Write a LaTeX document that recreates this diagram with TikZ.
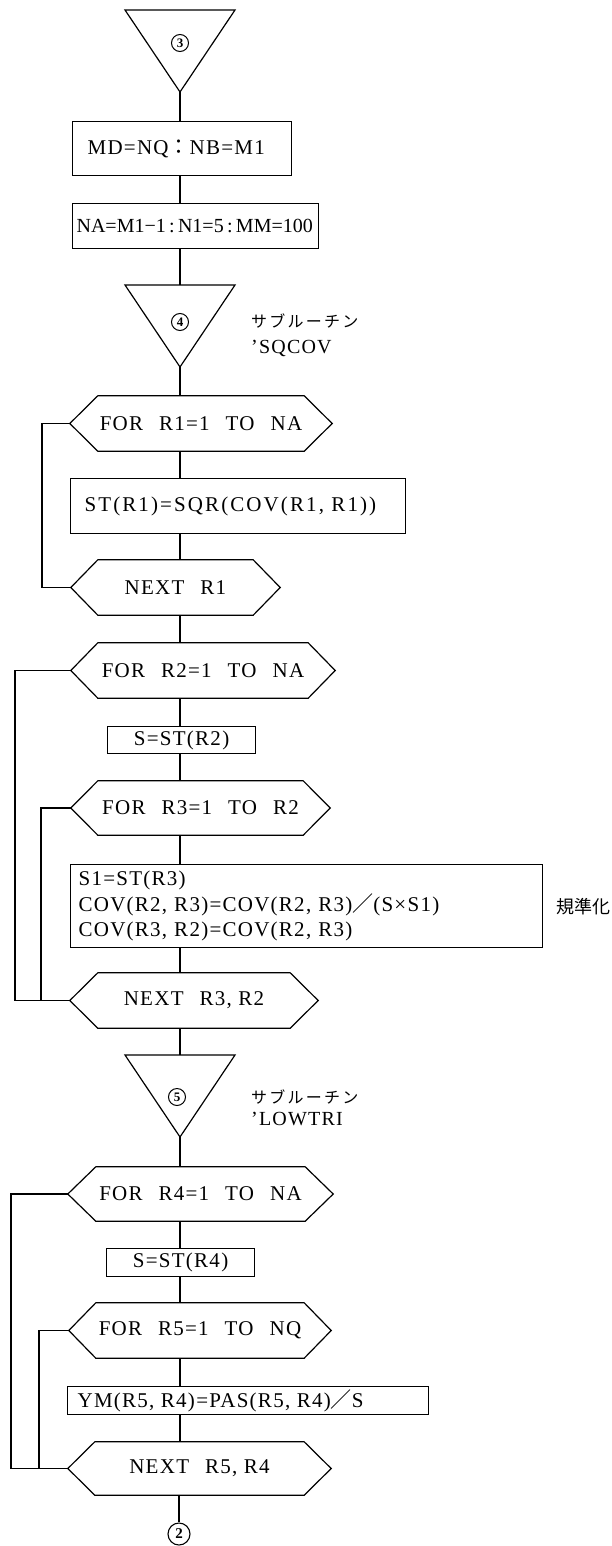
\documentclass[tikz,border=0pt]{standalone}
\usepackage{fontspec}
\setmainfont{Liberation Serif}[LetterSpace=6]
\newfontfamily\tightfont{Liberation Serif}
\newfontfamily\widefont{Liberation Serif}[LetterSpace=10]
\newfontfamily\jpfont{Noto Sans CJK JP}[LetterSpace=14]
\newfontfamily\jpplain{Noto Sans CJK JP}
\newcommand\gap{\hspace{16pt}}
\newcommand\hexdraw[2]{\draw[flow] (#1.west) -- ([xshift=#2]#1.north west) -- ([xshift=-#2]#1.north east) -- (#1.east) -- ([xshift=-#2]#1.south east) -- ([xshift=#2]#1.south west) -- cycle;}
\begin{document}
\begin{tikzpicture}[x=1pt,y=-1pt,
  every node/.style={font=\fontsize{21}{25.5}\selectfont},
  flow/.style={line width=1.2pt, line join=miter},
  box/.style={draw, line width=1.2pt, inner ysep=0pt, anchor=north west},
  hexn/.style={inner sep=0pt},
  circnum/.style={circle, draw, line width=1pt, inner sep=0pt, minimum size=17pt, font=\fontsize{13}{13}\selectfont\bfseries},
  jplabel/.style={anchor=west, inner sep=0pt, font=\fontsize{16}{16}\selectfont\jpfont},
  sublabel/.style={anchor=west, inner sep=0pt, font=\fontsize{20}{20}\selectfont},
  ]
\fill[white] (0,0) rectangle (611,1546);
\useasboundingbox (0,0) rectangle (611,1546);
\coordinate (axis) at (180,0);
% triangle 3
\coordinate (t3l) at (125,10); \coordinate (t3r) at (235,10); \coordinate (t3a) at (180,92);
\draw[flow] (t3l) -- (t3r) -- (t3a) -- cycle;
\node[circnum] (c3) at (180,43) {3};
% boxes
\node[box, inner xsep=15pt, minimum height=54pt] (b1) at (72,121) {\makebox[189pt][l]{MD=NQ{\jpplain ：}NB=M1}};
\node[box, inner xsep=4pt, minimum height=45pt, font=\fontsize{20}{24}\selectfont] (b2) at (72,203) {\makebox[238pt][l]{\tightfont NA=M1−1\,:\,N1=5\,:\,MM=100}};
% triangle 4
\coordinate (t4l) at (125,285); \coordinate (t4r) at (235,285); \coordinate (t4a) at (180,367);
\draw[flow] (t4l) -- (t4r) -- (t4a) -- cycle;
\node[circnum] (c4) at (180,322) {4};
\node[jplabel] (s1a) at (251,321) {サブルーチン};
\node[sublabel] (s1b) at (251,348) {'SQCOV};
% loop 1
\node[hexn, minimum width=262pt, minimum height=55pt] (f1) at (201,423.5) {FOR\gap R1=1\gap TO\gap NA};
\hexdraw{f1}{28pt}
\node[box, inner xsep=14pt, minimum height=55pt] (b3) at (70,478) {\makebox[307pt][l]{\widefont ST(R1)=SQR(COV(R1, R1))}};
\node[hexn, minimum width=209pt, minimum height=55pt] (n1) at (175.5,587.5) {NEXT\gap R1};
\hexdraw{n1}{27pt}
% loop 2/3
\node[hexn, minimum width=264pt, minimum height=55pt] (f2) at (203,670.5) {FOR\gap R2=1\gap TO\gap NA};
\hexdraw{f2}{27pt}
\node[box, inner sep=0pt, minimum width=148pt, minimum height=27pt] (b4) at (107,726) {S=ST(R2)};
\node[hexn, minimum width=259pt, minimum height=54pt] (f3) at (200.5,808) {FOR\gap R3=1\gap TO\gap R2};
\hexdraw{f3}{27pt}
\node[box, inner xsep=8pt, inner ysep=4pt, minimum height=83pt, text width=456pt, align=left] (b5) at (70,864) {S1=ST(R3)\\COV(R2, R3)=COV(R2, R3){\jpplain ／}(S×S1)\\COV(R3, R2)=COV(R2, R3)};
\node[anchor=center, inner sep=0pt, font=\fontsize{18}{18}\selectfont\jpplain] (norm) at (583,907) {規準化};
\node[hexn, minimum width=248pt, minimum height=55pt] (n2) at (194,1000.5) {NEXT\gap R3, R2};
\hexdraw{n2}{28pt}
% triangle 5
\coordinate (t5l) at (125,1055); \coordinate (t5r) at (235,1055); \coordinate (t5a) at (180,1137);
\draw[flow] (t5l) -- (t5r) -- (t5a) -- cycle;
\node[circnum] (c5) at (177,1097) {5};
\node[jplabel] (s2a) at (251,1097) {サブルーチン};
\node[sublabel] (s2b) at (251,1119) {'LOWTRI};
% loop 4/5
\node[hexn, minimum width=265pt, minimum height=54pt] (f4) at (200.5,1194) {FOR\gap R4=1\gap TO\gap NA};
\hexdraw{f4}{28pt}
\node[box, inner sep=0pt, minimum width=148pt, minimum height=28pt] (b6) at (106,1248) {S=ST(R4)};
\node[hexn, minimum width=262pt, minimum height=55pt] (f5) at (200,1330.5) {FOR\gap R5=1\gap TO\gap NQ};
\hexdraw{f5}{27pt}
\node[box, inner xsep=10pt, minimum height=28pt] (b7) at (67,1386) {\makebox[341pt][l]{YM(R5, R4)=PAS(R5, R4){\jpplain ／}S}};
\node[hexn, minimum width=263pt, minimum height=53pt] (n3) at (199.5,1468.5) {NEXT\gap R5, R4};
\hexdraw{n3}{27pt}
\node[circle, draw, line width=1.1pt, inner sep=0pt, minimum size=22pt, font=\fontsize{15}{15}\selectfont\bfseries] (c2) at (179,1534) {2};
% main flow
\draw[flow] (t3a) -- (b1.north -| axis);
\draw[flow] (b1.south -| axis) -- (b2.north -| axis);
\draw[flow] (b2.south -| axis) -- (t4l -| axis);
\draw[flow] (t4a) -- (f1.north -| axis);
\draw[flow] (f1.south -| axis) -- (b3.north -| axis);
\draw[flow] (b3.south -| axis) -- (n1.north -| axis);
\draw[flow] (n1.south -| axis) -- (f2.north -| axis);
\draw[flow] (f2.south -| axis) -- (b4.north -| axis);
\draw[flow] (b4.south -| axis) -- (f3.north -| axis);
\draw[flow] (f3.south -| axis) -- (b5.north -| axis);
\draw[flow] (b5.south -| axis) -- (n2.north -| axis);
\draw[flow] (n2.south -| axis) -- (t5l -| axis);
\draw[flow] (t5a) -- (f4.north -| axis);
\draw[flow] (f4.south -| axis) -- (b6.north -| axis);
\draw[flow] (b6.south -| axis) -- (f5.north -| axis);
\draw[flow] (f5.south -| axis) -- (b7.north -| axis);
\draw[flow] (b7.south -| axis) -- (n3.north -| axis);
\draw[flow] (n3.south -| c2) -- (c2.north);
% loop return lines
\coordinate (l1) at (42,0); \coordinate (l2) at (15,0); \coordinate (l3) at (41,0);
\coordinate (l4) at (11,0); \coordinate (l5) at (39,0);
\draw[flow] (f1.west) -- (f1.west -| l1) -- (n1.west -| l1) -- (n1.west);
\draw[flow] (f2.west) -- (f2.west -| l2) -- (n2.west -| l2) -- (n2.west);
\draw[flow] (f3.west) -- (f3.west -| l3) -- (n2.west -| l3);
\draw[flow] (f4.west) -- (f4.west -| l4) -- (n3.west -| l4) -- (n3.west);
\draw[flow] (f5.west) -- (f5.west -| l5) -- (n3.west -| l5);
\end{tikzpicture}
\end{document}
